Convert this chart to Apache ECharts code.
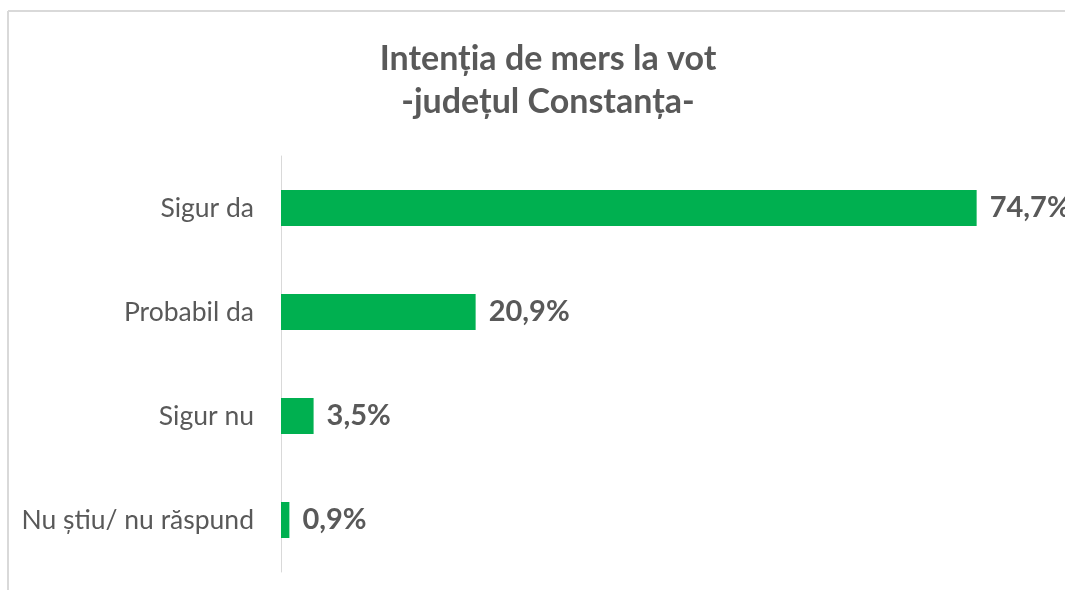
<!DOCTYPE html>
<html>
<head>
<meta charset="utf-8">
<script src="https://cdn.jsdelivr.net/npm/echarts@6/dist/echarts.min.js"></script>
<style>
  html, body { margin: 0; padding: 0; background: #fff; }
  #chart { width: 1065px; height: 590px; }
</style>
</head>
<body>
<div id="chart"></div>
<script>
const categories = ['Sigur da', 'Probabil da', 'Sigur nu', 'Nu știu/ nu răspund']
const values = [74.7, 20.9, 3.5, 0.9]

const FONT = 'Lato'
const GREY = '#595959'

const chart = echarts.init(document.getElementById('chart'))
chart.setOption({
  animation: false,
  backgroundColor: '#fff',
  textStyle: { fontFamily: FONT },
  title: {
    text: 'Intenția de mers la vot\n-județul Constanța-',
    left: 543,
    textAlign: 'center',
    top: 33,
    textStyle: { fontFamily: FONT, fontSize: 34, fontWeight: 'bold', color: GREY, lineHeight: 43 },
  },
  graphic: [
    // chart-area frame (top and left edges visible in the crop)
    { type: 'line', shape: { x1: 8, y1: 11, x2: 1065, y2: 11 }, style: { stroke: '#d9d9d9', lineWidth: 2 } },
    { type: 'line', shape: { x1: 8, y1: 11, x2: 8, y2: 590 }, style: { stroke: '#d9d9d9', lineWidth: 2 } },
  ],
  grid: { left: 281, top: 156, width: 745, height: 416, containLabel: false },
  xAxis: {
    type: 'value',
    min: 0,
    max: 80,
    show: false,
  },
  yAxis: {
    type: 'category',
    data: categories,
    inverse: true,
    axisLine: { show: true, lineStyle: { color: '#d9d9d9', width: 1 } },
    axisTick: { show: false },
    axisLabel: { color: GREY, fontSize: 26.5, margin: 27, fontFamily: FONT },
  },
  series: [
    {
      type: 'bar',
      data: values,
      barWidth: 36,
      itemStyle: { color: '#00b050' },
      label: {
        show: true,
        position: 'right',
        distance: 13,
        color: GREY,
        fontSize: 29,
        fontWeight: 'bold',
        fontFamily: FONT,
        formatter: (p) => p.value.toFixed(1).replace('.', ',') + '%',
      },
    },
  ],
})
</script>
</body>
</html>
